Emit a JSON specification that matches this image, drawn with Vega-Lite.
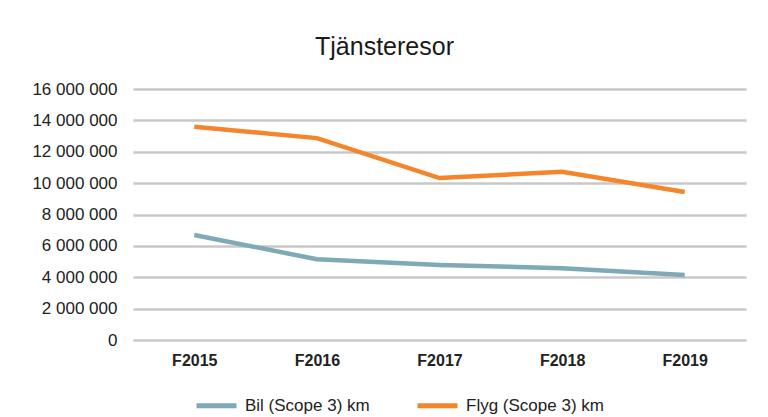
{
  "$schema": "https://vega.github.io/schema/vega-lite/v6.json",
  "autosize": {"type": "none"},
  "width": 613,
  "height": 251,
  "padding": {"left": 133, "top": 89, "right": 22, "bottom": 77},
  "background": "white",
  "config": {
    "locale": {"number": {"decimal": ",", "thousands": " ", "grouping": [3], "currency": ["", " kr"]}},
    "font": "Liberation Sans",
    "view": {"stroke": null}
  },
  "title": {
    "text": "Tjänsteresor",
    "fontSize": 25,
    "fontWeight": "normal",
    "color": "#1a1a1a",
    "anchor": "middle",
    "dx": -55,
    "offset": 20
  },
  "data": {
    "values": [
      {"year": "F2015", "series": "Bil (Scope 3) km", "km": 6690000},
      {"year": "F2016", "series": "Bil (Scope 3) km", "km": 5150000},
      {"year": "F2017", "series": "Bil (Scope 3) km", "km": 4780000},
      {"year": "F2018", "series": "Bil (Scope 3) km", "km": 4580000},
      {"year": "F2019", "series": "Bil (Scope 3) km", "km": 4140000},
      {"year": "F2015", "series": "Flyg (Scope 3) km", "km": 13600000},
      {"year": "F2016", "series": "Flyg (Scope 3) km", "km": 12870000},
      {"year": "F2017", "series": "Flyg (Scope 3) km", "km": 10320000},
      {"year": "F2018", "series": "Flyg (Scope 3) km", "km": 10720000},
      {"year": "F2019", "series": "Flyg (Scope 3) km", "km": 9430000}
    ]
  },
  "mark": {"type": "line", "strokeWidth": 4.5},
  "encoding": {
    "x": {
      "field": "year",
      "type": "ordinal",
      "scale": {"type": "point", "padding": 0.5},
      "axis": {
        "title": null,
        "labelAngle": 0,
        "labelFontSize": 16,
        "labelFontWeight": "bold",
        "labelColor": "#222222",
        "labelPadding": 12,
        "ticks": false,
        "domain": false,
        "grid": false
      }
    },
    "y": {
      "field": "km",
      "type": "quantitative",
      "scale": {"domain": [0, 16000000]},
      "axis": {
        "title": null,
        "values": [0, 2000000, 4000000, 6000000, 8000000, 10000000, 12000000, 14000000, 16000000],
        "format": ",.0f",
        "labelFontSize": 17,
        "labelColor": "#222222",
        "labelPadding": 16,
        "ticks": false,
        "domain": false,
        "grid": true,
        "gridColor": "#c8c8c8",
        "gridWidth": 2.5
      }
    },
    "color": {
      "field": "series",
      "type": "nominal",
      "scale": {"domain": ["Bil (Scope 3) km", "Flyg (Scope 3) km"], "range": ["#7fa9b5", "#f5852a"]},
      "legend": {
        "title": null,
        "orient": "none",
        "direction": "horizontal",
        "legendX": 61,
        "legendY": 294,
        "symbolType": "stroke",
        "symbolSize": 1600,
        "symbolStrokeWidth": 5,
        "labelFontSize": 17,
        "labelColor": "#222222",
        "labelOffset": 6,
        "columnPadding": 37
      }
    }
  }
}
